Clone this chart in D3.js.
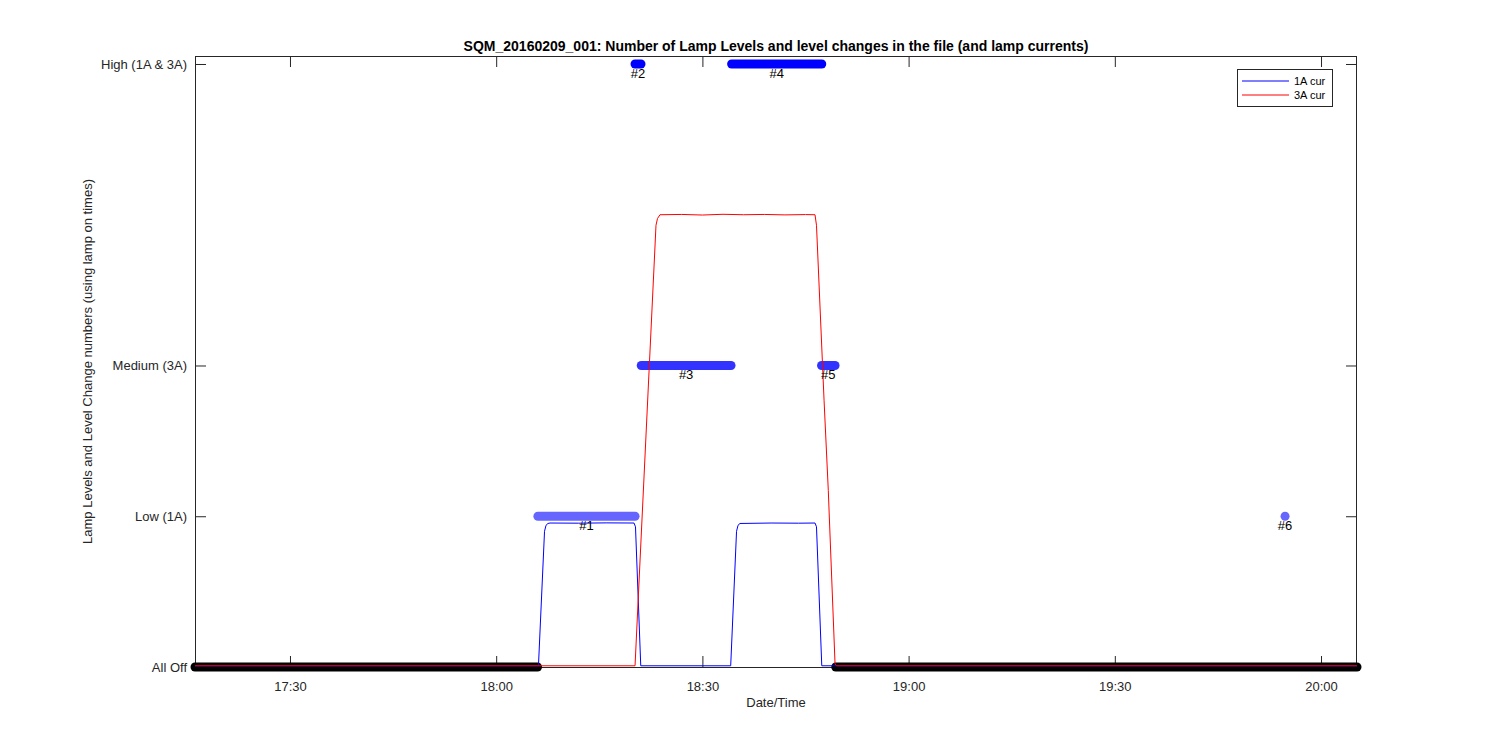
<!DOCTYPE html>
<html><head><meta charset="utf-8">
<script src="https://cdn.jsdelivr.net/npm/d3@7"></script>
<style>
body{margin:0;background:#fff;}
text{font-family:"Liberation Sans",Arial,Helvetica,sans-serif;}
</style></head>
<body><svg id="chart" width="1500" height="750"></svg>
<script>
// ---- data ----
const dateStr = "2016-02-09";
const xRange = ["17:16:11", "20:05:14"];
const xTicks = ["17:30", "18:00", "18:30", "19:00", "19:30", "20:00"];
const levelTicks = [0, 1, 2, 4];
const levelTickLabels = ["All Off", "Low (1A)", "Medium (3A)", "High (1A & 3A)"];
// level segments: [start, end, level, label]
const segStart = ["17:16:11", "18:06:04", "18:20:12", "18:21:06", "18:34:15", "18:47:20", "18:49:24", "19:54:46"];
const segEnd   = ["18:06:01", "18:20:12", "18:21:04", "18:34:10", "18:47:22", "18:49:18", "20:05:14", "19:54:46"];
const segLevel = [0, 1, 4, 2, 4, 2, 0, 1];
const segLabel = ["", "#1", "#2", "#3", "#4", "#5", "", "#6"];
// lamp currents
const cur1ATime = ["17:16:11","18:06:09","18:07:02","18:07:15","18:07:32","18:07:50","18:12:00","18:16:00","18:20:03","18:20:16","18:21:02",
  "18:34:07","18:34:58","18:35:11","18:35:28","18:40:00","18:44:00","18:46:23","18:46:36","18:47:22","20:05:14"];
const cur1AVal  = [0.008,0.008,0.90,0.94,0.952,0.955,0.954,0.956,0.955,0.93,0.008,
  0.008,0.90,0.94,0.952,0.955,0.954,0.955,0.93,0.008,0.008];
const cur3ATime = ["17:16:11","18:20:12","18:23:15","18:23:28","18:23:50","18:27:00","18:30:00","18:33:00","18:36:00","18:39:00","18:42:00","18:45:00","18:46:23","18:46:36","18:47:42","18:48:19","18:49:18","18:49:30","20:05:14"];
const cur3AVal  = [0.008,0.008,2.93,2.975,3.0,3.002,2.998,3.003,3.0,3.002,2.999,3.001,3.0,2.93,1.77,1.17,0.02,0.008,0.008];
const legendNames = ["1A cur", "3A cur"];
const legendColors = ["#0000ff", "#ff0000"];
const levelColors = {0: "#000000", 1: "#6666ff", 2: "#3333ff", 4: "#0000ff"};

// ---- layout ----
const L = 195, R = 1357, T = 56, B = 667;
const parse = s => new Date(dateStr + "T" + (s.length === 5 ? s + ":00" : s));
const x = d3.scaleTime().domain(xRange.map(parse)).range([L, R]);
const y = d3.scaleLinear().domain([0, 4.053]).range([B, T]);
const svg = d3.select("#chart");

// axes
const tickLen = 11;
const xAx = d3.axisBottom(x).tickValues(xTicks.map(parse)).tickFormat(d3.timeFormat("%H:%M")).tickSizeInner(-tickLen).tickSizeOuter(0).tickPadding(18);
const gx = svg.append("g").attr("transform", `translate(0,${B})`).call(xAx);
const xTop = d3.axisTop(x).tickValues(xTicks.map(parse)).tickFormat("").tickSizeInner(-tickLen).tickSizeOuter(0);
const gxt = svg.append("g").attr("transform", `translate(0,${T})`).call(xTop);
const yAx = d3.axisLeft(y).tickValues(levelTicks).tickFormat((d, i) => levelTickLabels[i]).tickSizeInner(-tickLen).tickSizeOuter(0).tickPadding(8);
const gy = svg.append("g").attr("transform", `translate(${L},0)`).call(yAx);
const yR = d3.axisRight(y).tickValues(levelTicks).tickFormat("").tickSizeInner(-tickLen).tickSizeOuter(0);
const gyr = svg.append("g").attr("transform", `translate(${R},0)`).call(yR);
[gx, gxt, gy, gyr].forEach(g => {
  g.select(".domain").remove();
  g.selectAll("line").attr("stroke", "#262626");
  g.selectAll("text").attr("fill", "#262626").attr("font-size", 13);
});
gx.selectAll("text").attr("dy", "0.71em").attr("transform", "translate(0,-3)");
svg.append("rect").attr("x", L + 0.5).attr("y", T + 0.5).attr("width", R - L - 1).attr("height", B - T)
  .attr("fill", "none").attr("stroke", "#262626").attr("stroke-width", 1);

// level segments
const segs = segStart.map((s, i) => ({s: parse(s), e: parse(segEnd[i]), lv: segLevel[i], lab: segLabel[i]}));
svg.append("g").selectAll("line").data(segs).join("line")
  .attr("x1", d => x(d.s)).attr("x2", d => x(d.e))
  .attr("y1", d => y(d.lv)).attr("y2", d => y(d.lv))
  .attr("stroke", d => levelColors[d.lv]).attr("stroke-width", 9).attr("stroke-linecap", "round");

// currents
const line = d3.line().x(d => x(d[0])).y(d => y(d[1]));
svg.append("path").datum(cur1ATime.map((t, i) => [parse(t), cur1AVal[i]]))
  .attr("d", line).attr("fill", "none").attr("stroke", legendColors[0]).attr("stroke-width", 1);
svg.append("path").datum(cur3ATime.map((t, i) => [parse(t), cur3AVal[i]]))
  .attr("d", line).attr("fill", "none").attr("stroke", legendColors[1]).attr("stroke-width", 1);

// labels
svg.append("g").selectAll("text").data(segs.filter(d => d.lab)).join("text")
  .attr("x", d => x(new Date((+d.s + +d.e) / 2))).attr("y", d => y(d.lv) + 14)
  .attr("text-anchor", "middle").attr("font-size", 13).attr("fill", "#000").text(d => d.lab);

// title and axis labels
svg.append("text").attr("x", (L + R) / 2).attr("y", 51).attr("text-anchor", "middle")
  .attr("font-size", 14).attr("font-weight", "bold").attr("fill", "#000")
  .text("SQM_20160209_001: Number of Lamp Levels and level changes in the file (and lamp currents)");
svg.append("text").attr("x", (L + R) / 2).attr("y", 707).attr("text-anchor", "middle")
  .attr("font-size", 13).attr("fill", "#262626").text("Date/Time");
svg.append("text").attr("transform", `translate(92,${(T + B) / 2}) rotate(-90)`).attr("text-anchor", "middle")
  .attr("font-size", 13).attr("fill", "#262626").text("Lamp Levels and Level Change numbers (using lamp on times)");

// legend
const lg = svg.append("g").attr("transform", "translate(1237,69)");
lg.append("rect").attr("x", 0.5).attr("y", 0.5).attr("width", 95).attr("height", 37).attr("fill", "#fff").attr("stroke", "#262626");
legendNames.forEach((n, i) => {
  lg.append("line").attr("x1", 5).attr("x2", 52).attr("y1", 12 + i * 14).attr("y2", 12 + i * 14).attr("stroke", legendColors[i]);
  lg.append("text").attr("x", 57).attr("y", 12 + i * 14).attr("dy", "0.35em").attr("font-size", 11).attr("fill", "#000").text(n);
});
</script></body></html>
